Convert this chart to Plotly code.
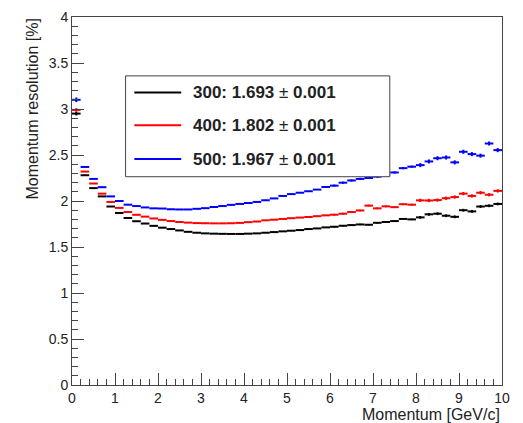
import plotly.graph_objects as go

# Bin centres (50 bins of 0.2 GeV/c from 0 to 10)
momentum = [round(0.1 + 0.2 * i, 2) for i in range(50)]
bin_half_width = 0.1

res_300 = [2.95, 2.28, 2.14, 2.05, 1.94, 1.87, 1.815, 1.78, 1.755, 1.73,
           1.71, 1.695, 1.68, 1.665, 1.655, 1.648, 1.645, 1.643, 1.642, 1.642,
           1.645, 1.648, 1.655, 1.662, 1.67, 1.677, 1.684, 1.695, 1.702, 1.713,
           1.72, 1.731, 1.738, 1.745, 1.742, 1.763, 1.772, 1.782, 1.805, 1.80,
           1.822, 1.855, 1.862, 1.84, 1.828, 1.90, 1.887, 1.94, 1.948, 1.968]
res_400 = [2.99, 2.32, 2.19, 2.08, 1.99, 1.925, 1.88, 1.85, 1.83, 1.81,
           1.795, 1.782, 1.772, 1.765, 1.76, 1.758, 1.757, 1.757, 1.758, 1.762,
           1.77, 1.777, 1.79, 1.797, 1.805, 1.813, 1.82, 1.826, 1.835, 1.844,
           1.851, 1.862, 1.88, 1.897, 1.95, 1.92, 1.942, 1.933, 1.965, 1.96,
           2.007, 2.005, 2.01, 2.03, 2.043, 2.08, 2.055, 2.09, 2.068, 2.11]
res_500 = [3.10, 2.37, 2.24, 2.15, 2.05, 2.00, 1.96, 1.945, 1.93, 1.92,
           1.918, 1.91, 1.908, 1.908, 1.915, 1.922, 1.935, 1.945, 1.958, 1.968,
           1.978, 1.99, 2.008, 2.028, 2.055, 2.075, 2.09, 2.106, 2.124, 2.152,
           2.167, 2.199, 2.223, 2.24, 2.25, 2.265, 2.28, 2.31, 2.357, 2.373,
           2.39, 2.43, 2.465, 2.473, 2.42, 2.535, 2.51, 2.493, 2.625, 2.553]

err_300 = [0.02] + [0.004] * 29 + [0.008] * 10 + [0.015] * 10
err_400 = [0.02] + [0.004] * 29 + [0.01] * 10 + [0.018] * 10
err_500 = [0.025] + [0.005] * 29 + [0.012] * 10 + [0.022] * 10

legend_labels = ["300: 1.693", "400: 1.802", "500: 1.967"]
legend_errors = ["0.001", "0.001", "0.001"]
colors = ["#000000", "#ff0000", "#0000ff"]

series = [res_300, res_400, res_500]
errors = [err_300, err_400, err_500]

fig = go.Figure()
for vals, errs, col in zip(series, errors, colors):
    fig.add_trace(go.Scatter(
        x=momentum, y=vals, mode="markers",
        marker=dict(size=1, color=col, opacity=0),
        error_x=dict(type="constant", value=bin_half_width, color=col,
                     thickness=2, width=0),
        error_y=dict(type="data", array=errs, color=col, thickness=2, width=0),
        showlegend=False,
    ))

axis_font = dict(family="Liberation Sans, Arial, sans-serif", size=14, color="#222")
fig.update_layout(
    width=523, height=423,
    margin=dict(l=72, r=21, t=9, b=38),
    paper_bgcolor="white", plot_bgcolor="white",
    showlegend=False,
    xaxis=dict(range=[0, 10], dtick=1, tick0=0, ticks="inside", ticklen=12,
               tickwidth=1, tickcolor="#444", showline=True, linecolor="#444",
               linewidth=1, mirror=True, showgrid=False, zeroline=False,
               tickfont=axis_font,
               minor=dict(dtick=0.2, ticks="inside", ticklen=6,
                          tickcolor="#444", showgrid=False)),
    yaxis=dict(range=[0, 4], dtick=0.5, tick0=0, ticks="inside", ticklen=12,
               tickwidth=1, tickcolor="#444", showline=True, linecolor="#444",
               linewidth=1, mirror=True, showgrid=False, zeroline=False,
               tickfont=axis_font,
               minor=dict(dtick=0.1, ticks="inside", ticklen=6,
                          tickcolor="#444", showgrid=False)),
)

title_font = dict(family="Liberation Sans, Arial, sans-serif", size=16, color="#222")
fig.add_annotation(text="Momentum [GeV/c]", xref="paper", yref="paper",
                   x=1, y=-0.081, xanchor="right", yanchor="middle",
                   showarrow=False, font=title_font)
fig.add_annotation(text="Momentum resolution [%]", xref="paper", yref="paper",
                   x=-0.093, y=1, xanchor="center", yanchor="top",
                   textangle=-90, showarrow=False, font=title_font)

# Legend box (ROOT TLegend style)
lx0, lx1, ly0, ly1 = 0.1246, 0.739, 0.566, 0.840
fig.add_shape(type="rect", xref="paper", yref="paper", x0=lx0, x1=lx1,
              y0=ly0, y1=ly1, fillcolor="white", line=dict(color="#444", width=1),
              layer="above")
row_y = [0.795, 0.706, 0.614]
for lab, err, col, yy in zip(legend_labels, legend_errors, colors, row_y):
    fig.add_shape(type="line", xref="paper", yref="paper", x0=0.145, x1=0.254,
                  y0=yy, y1=yy, line=dict(color=col, width=2), layer="above")
    fig.add_annotation(text=f"<b>{lab}</b> \u00b1 <b>{err}</b>",
                       xref="paper", yref="paper", x=0.277, y=yy,
                       xanchor="left", yanchor="middle", showarrow=False,
                       font=dict(family="Liberation Sans, Arial, sans-serif",
                                 size=17, color="#222"))

fig.write_html("out.html")
